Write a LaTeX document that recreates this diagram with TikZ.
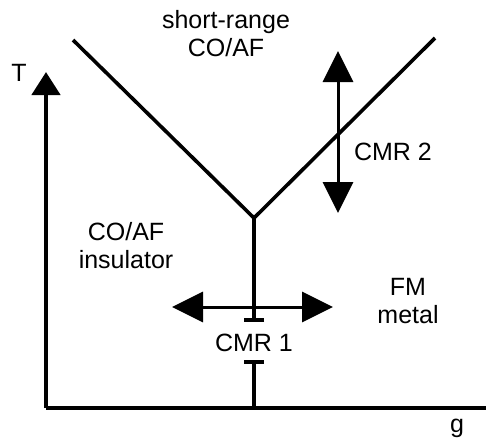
\documentclass[tikz,border=0pt]{standalone}
\usepackage{fontspec}
\setmainfont{Liberation Sans}
\usetikzlibrary{arrows.meta}

\begin{document}
\begin{tikzpicture}[x=.5pt,y=-.5pt,font=\fontsize{12.5}{14}\selectfont,
  axis/.style={line width=2.3pt,-{Triangle[length=11.5pt,width=14pt]}},
  phase/.style={line width=1.8pt},
  cmr/.style={line width=1.5pt,{Triangle[length=15.5pt,width=15pt]}-{Triangle[length=15.5pt,width=15pt]}},
  txt/.style={align=center,inner sep=0pt}]
\useasboundingbox (0,0) rectangle (486,441);
% axes
\coordinate (orig) at (46,408);
\coordinate (ytop) at (46,72);
\coordinate (xend) at (486,408);
\draw[axis] (orig) -- (ytop);
\draw[line width=2.3pt] (orig) -- (xend);
\node[txt] (tlab) at (19,73) {T};
\node[txt] (glab) at (457,428) {g};
% phase boundaries
\coordinate (vtip) at (254,218);
\coordinate (lft) at (73,40);
\coordinate (rgt) at (435,38);
\coordinate (bar1) at (254,322);
\coordinate (bar2) at (254,360);
\coordinate (base) at (254,408);
\draw[phase] (lft) -- (vtip) -- (rgt);
\draw[phase,-{Bar[width=10pt]}] (vtip) -- (bar1);
\draw[phase,-{Bar[width=10pt]}] (base) -- (bar2);
% CMR arrows
\coordinate (c1l) at (172,307);
\coordinate (c1r) at (333,307);
\coordinate (c2t) at (338,51);
\coordinate (c2b) at (338,213);
\draw[cmr] (c1l) -- (c1r);
\draw[cmr] (c2t) -- (c2b);
\node[txt] (cmr1) at (254,343) {CMR 1};
\node[txt] (cmr2) at (393,152) {CMR 2};
% regions
\node[txt] (sr) at (226,34) {short-range\\CO/AF};
\node[txt] (ins) at (126,246) {CO/AF\\insulator};
\node[txt] (fm) at (408,301) {FM\\metal};
\end{tikzpicture}
\end{document}
